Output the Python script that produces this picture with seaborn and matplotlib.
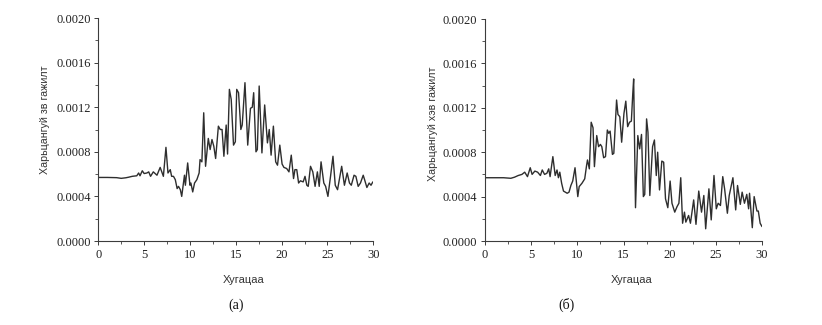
import matplotlib
matplotlib.use("Agg")
import matplotlib.pyplot as plt
from matplotlib.ticker import MultipleLocator, FormatStrFormatter
import seaborn as sns
import pandas as pd

# Panel (a): relative deviation over time
time_a = [0.0, 1.0, 2.0, 2.5, 3.0, 3.3, 3.7, 4.2, 4.4, 4.55, 4.8, 5.0, 5.3, 5.5, 5.7,
          6.0, 6.2, 6.4, 6.75, 7.1, 7.38, 7.6, 7.85, 8.0, 8.2, 8.4, 8.6, 8.75, 8.95,
          9.1, 9.4, 9.5, 9.75, 10.0, 10.1, 10.3, 10.5, 10.75, 11.0, 11.1, 11.3, 11.5,
          11.7, 12.0, 12.2, 12.4, 12.6, 12.8, 13.1, 13.3, 13.5, 13.7, 13.95, 14.1,
          14.3, 14.5, 14.75, 14.95, 15.1, 15.3, 15.55, 15.7, 16.0, 16.3, 16.6, 16.8,
          16.95, 17.2, 17.35, 17.55, 17.85, 18.15, 18.45, 18.65, 18.85, 19.1, 19.35,
          19.55, 19.8, 20.05, 20.25, 20.55, 20.8, 21.05, 21.3, 21.45, 21.65, 21.85,
          22.05, 22.35, 22.55, 22.75, 22.9, 23.15, 23.4, 23.65, 23.9, 24.1, 24.3,
          24.6, 24.8, 25.05, 25.35, 25.6, 25.85, 26.1, 26.55, 26.85, 27.15, 27.4,
          27.6, 27.9, 28.1, 28.35, 28.6, 28.9, 29.05, 29.3, 29.55, 29.75, 29.95]
value_a = [0.00057, 0.00057, 0.000568, 0.000562, 0.000567, 0.000572, 0.00058,
           0.000585, 0.00061, 0.000585, 0.00063, 0.000605, 0.00061, 0.00062,
           0.00058, 0.00062, 0.000605, 0.00059, 0.00066, 0.00058, 0.00084, 0.00061,
           0.00064, 0.00058, 0.00058, 0.00055, 0.00047, 0.00049, 0.00046, 0.0004,
           0.00059, 0.0005, 0.0007, 0.0005, 0.00052, 0.00044, 0.00052, 0.00055,
           0.00061, 0.00073, 0.00071, 0.00115, 0.00067, 0.00092, 0.00082, 0.00091,
           0.00085, 0.00074, 0.00103, 0.001, 0.001, 0.00076, 0.00104, 0.00078,
           0.00136, 0.00127, 0.00086, 0.00089, 0.00136, 0.00133, 0.001, 0.00104,
           0.00142, 0.00086, 0.00119, 0.0012, 0.00133, 0.0008, 0.00082, 0.00139,
           0.00079, 0.00122, 0.00088, 0.001, 0.00077, 0.00103, 0.00071, 0.00068,
           0.00086, 0.00069, 0.00066, 0.00065, 0.00062, 0.00077, 0.00056, 0.00064,
           0.00064, 0.00052, 0.00054, 0.00053, 0.00058, 0.0005, 0.00049, 0.00067,
           0.00062, 0.00049, 0.00062, 0.00049, 0.00071, 0.00052, 0.00049, 0.0004,
           0.00059, 0.00076, 0.0005, 0.00046, 0.00067, 0.0005, 0.00061, 0.00052,
           0.0005, 0.00059, 0.00058, 0.00049, 0.00052, 0.00059, 0.00055, 0.00048,
           0.00052, 0.0005, 0.00053]

# Panel (b): relative shape deviation over time
time_b = [0.0, 1.0, 2.0, 2.8, 3.2, 3.6, 4.0, 4.3, 4.6, 4.9, 5.1, 5.4, 5.7, 6.0,
          6.2, 6.45, 6.7, 6.9, 7.05, 7.35, 7.6, 7.8, 7.95, 8.1, 8.3, 8.5, 8.7, 8.9,
          9.1, 9.3, 9.5, 9.75, 10.05, 10.2, 10.5, 10.8, 11.0, 11.1, 11.3, 11.5,
          11.7, 11.85, 12.1, 12.3, 12.5, 12.65, 12.85, 13.05, 13.25, 13.4, 13.55,
          13.8, 13.95, 14.25, 14.4, 14.6, 14.8, 15.05, 15.25, 15.45, 15.65, 15.85,
          16.0, 16.1, 16.3, 16.55, 16.75, 16.95, 17.15, 17.3, 17.5, 17.65, 17.85,
          18.15, 18.35, 18.55, 18.7, 18.9, 19.15, 19.35, 19.55, 19.8, 20.05, 20.25,
          20.55, 20.8, 21.0, 21.2, 21.4, 21.6, 21.75, 22.05, 22.25, 22.6, 22.85,
          23.15, 23.45, 23.7, 23.9, 24.25, 24.5, 24.8, 25.05, 25.25, 25.5, 25.75,
          25.95, 26.25, 26.45, 26.85, 27.15, 27.35, 27.65, 27.85, 28.1, 28.35,
          28.55, 28.65, 28.95, 29.15, 29.45, 29.6, 29.8, 30.0]
value_b = [0.00057, 0.00057, 0.00057, 0.000565, 0.000575, 0.00059, 0.0006, 0.00062,
           0.00058, 0.00066, 0.0006, 0.00063, 0.00062, 0.00059, 0.00064, 0.0006,
           0.00061, 0.00065, 0.00058, 0.00076, 0.00059, 0.00064, 0.00057, 0.00062,
           0.00052, 0.00045, 0.00044, 0.00043, 0.00044, 0.0005, 0.00054, 0.00066,
           0.0004, 0.00049, 0.00052, 0.00056, 0.00068, 0.00073, 0.00065, 0.00107,
           0.00102, 0.00067, 0.00095, 0.00085, 0.00087, 0.00085, 0.00075, 0.00076,
           0.001, 0.00097, 0.00099, 0.00078, 0.00079, 0.00127, 0.00114, 0.00112,
           0.00089, 0.00115, 0.00126, 0.00103, 0.00107, 0.00108, 0.00132, 0.00146,
           0.0003, 0.00095, 0.00083, 0.00096, 0.0004, 0.00042, 0.0011, 0.00098,
           0.00041, 0.00085, 0.00091, 0.00059, 0.0008, 0.00046, 0.00072, 0.00071,
           0.00038, 0.0003, 0.00054, 0.00034, 0.00026, 0.00031, 0.00034, 0.00057,
           0.00016, 0.00026, 0.00017, 0.00023, 0.00016, 0.00037, 0.00015, 0.00045,
           0.00026, 0.00041, 0.00011, 0.00047, 0.00019, 0.00059, 0.00029, 0.00034,
           0.00032, 0.00058, 0.00047, 0.00025, 0.00041, 0.00057, 0.00028, 0.0005,
           0.00033, 0.00044, 0.00034, 0.00042, 0.00029, 0.00043, 0.00012, 0.0004,
           0.00027, 0.00027, 0.00016, 0.00013]

x_label = "Хугацаа"
y_label_a = "Харьцангуй зв гажилт"
y_label_b = "Харьцангуй хэв гажилт"
panel_tags = ["(а)", "(б)"]

sns.set_style("ticks")
plt.rcParams["font.family"] = ["Liberation Sans", "DejaVu Sans"]

fig = plt.figure(figsize=(8.22, 3.25), dpi=100)
ax_a = fig.add_axes([98.3 / 822, 1 - 241 / 325, 275 / 822, 223 / 325])
ax_b = fig.add_axes([485 / 822, 1 - 241 / 325, 277 / 822, 222 / 325])

line_color = "#2e2e2e"
axis_color = "#3c3c3c"

panels = [
    (ax_a, time_a, value_a, y_label_a, panel_tags[0], 236 / 822, (-0.176, 0.545)),
    (ax_b, time_b, value_b, y_label_b, panel_tags[1], 566 / 822, (-0.168, 0.53)),
]

for ax, t, v, ylab, tag, tag_x, ylab_pos in panels:
    df = pd.DataFrame({"t": t, "v": v})
    sns.lineplot(data=df, x="t", y="v", ax=ax, color=line_color, linewidth=1.0)
    ax.set_xlim(0, 30)
    ax.set_ylim(0, 0.002)
    ax.xaxis.set_major_locator(MultipleLocator(5))
    ax.xaxis.set_minor_locator(MultipleLocator(2.5))
    ax.yaxis.set_major_locator(MultipleLocator(0.0004))
    ax.yaxis.set_minor_locator(MultipleLocator(0.0002))
    ax.yaxis.set_major_formatter(FormatStrFormatter("%.4f"))
    ax.tick_params(which="major", direction="out", length=3, width=0.7,
                   color=axis_color, pad=2.5)
    ax.tick_params(which="minor", direction="out", length=2, width=0.6,
                   color=axis_color)
    for lbl in ax.get_xticklabels() + ax.get_yticklabels():
        lbl.set_fontfamily("Liberation Serif")
        lbl.set_fontsize(9)
        lbl.set_color("#222222")
    for side in ("top", "right"):
        ax.spines[side].set_visible(False)
    for side in ("left", "bottom"):
        ax.spines[side].set_color(axis_color)
        ax.spines[side].set_linewidth(0.8)
    ax.set_xlabel(x_label, fontsize=8, color="#333333")
    ax.set_ylabel(ylab, fontsize=7.7, color="#333333")
    ax.xaxis.set_label_coords(0.53, -0.152)
    ax.yaxis.set_label_coords(*ylab_pos)
    fig.text(tag_x, 1 - 305 / 325, tag, ha="center", va="center",
             fontfamily="Liberation Serif", fontsize=10, color="#111111")

fig.savefig("out.png", dpi=100, facecolor="white")
